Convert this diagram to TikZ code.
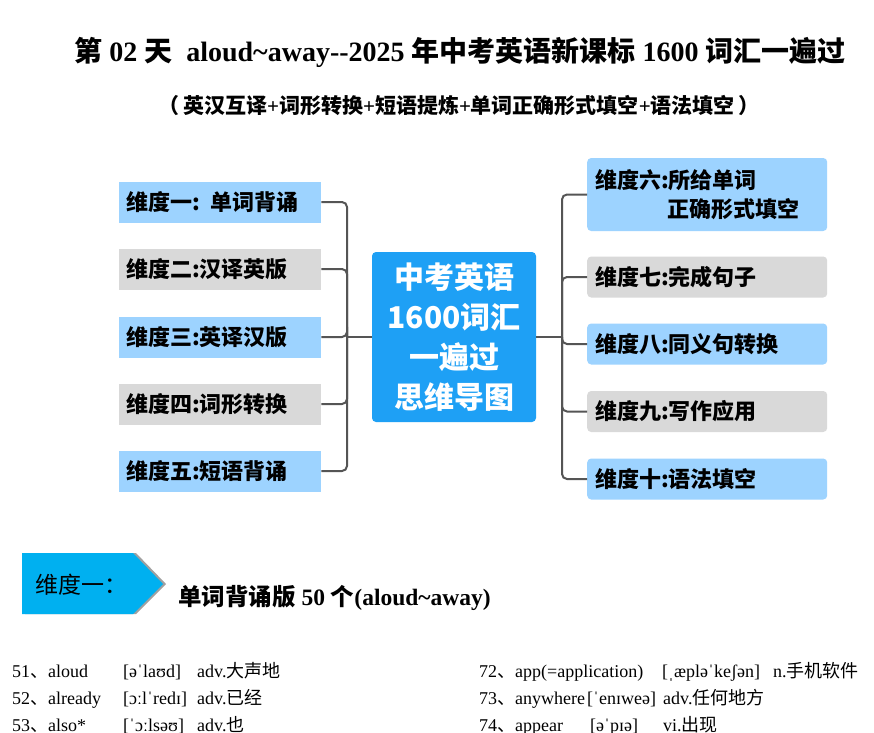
\documentclass[tikz,border=0pt]{standalone}
\usepackage{fontspec}
\setmainfont{Liberation Serif}
\newfontfamily\zhfont{Noto Sans CJK SC}
\newcommand{\zh}[1]{{\zhfont #1}}
\definecolor{dimblue}{HTML}{9DD3FF}
\definecolor{dimgray}{HTML}{D9D9D9}
\definecolor{hubblue}{HTML}{1EA0F5}
\definecolor{tagblue}{HTML}{00B0F0}
\definecolor{tagshade}{HTML}{A0A0A0}
\definecolor{linegray}{HTML}{555555}
\tikzset{
	leftdim/.style={anchor=west,text width=188pt,inner xsep=7pt,inner ysep=0pt,minimum height=41pt,align=left,font=\zhfont\bfseries\fontsize{22}{26}\selectfont},
	rightdim/.style={anchor=west,text width=224pt,inner xsep=8pt,inner ysep=0pt,minimum height=41pt,align=left,rounded corners=4pt,font=\zhfont\bfseries\fontsize{22}{29}\selectfont},
	hubbox/.style={fill=hubblue,text=white,rounded corners=4pt,minimum width=164pt,minimum height=170pt,align=center,font=\zhfont\bfseries\fontsize{30}{40}\selectfont},
	branch/.style={draw=linegray,line width=2pt,rounded corners=5pt},
	entry/.style={anchor=base west,inner sep=0pt,font=\fontsize{18}{20}\selectfont},
}
\begin{document}
\begin{tikzpicture}[x=1pt,y=-1pt]
	\useasboundingbox[fill=white] (0,0) rectangle (874,732);
	\node[font=\bfseries\fontsize{28}{32}\selectfont](title) at (460,52){\zh{第} 02 \zh{天}\ \ aloud\textasciitilde away-{}-2025 \zh{年中考英语新课标} 1600 \zh{词汇一遍过}};
	\node[font=\bfseries\fontsize{21}{24}\selectfont](subtitle) at (459,105){\zh{（}\,\zh{英汉互译}+\zh{词形转换}+\zh{短语提炼}+\zh{单词正确形式填空}+\zh{语法填空}\,\zh{）}};

	\node[hubbox](hub) at (454,337){中考英语\\1600词汇\\一遍过\\思维导图};

	\node[leftdim,fill=dimblue](dim1) at (119,202){维度一: 单词背诵};
	\node[leftdim,fill=dimgray](dim2) at (119,269){维度二:汉译英版};
	\node[leftdim,fill=dimblue](dim3) at (119,337){维度三:英译汉版};
	\node[leftdim,fill=dimgray](dim4) at (119,404){维度四:词形转换};
	\node[leftdim,fill=dimblue](dim5) at (119,471){维度五:短语背诵};

	\node[rightdim,fill=dimblue,minimum height=73pt](dim6) at (587,194.5){维度六:所给单词\\\hspace*{72pt}正确形式填空};
	\node[rightdim,fill=dimgray](dim7) at (587,277){维度七:完成句子};
	\node[rightdim,fill=dimblue](dim8) at (587,344){维度八:同义句转换};
	\node[rightdim,fill=dimgray](dim9) at (587,411.5){维度九:写作应用};
	\node[rightdim,fill=dimblue](dim10) at (587,479){维度十:语法填空};

	\coordinate(jl) at (347,337);
	\coordinate(jr) at (562,337);
	\draw[branch](hub.west)--(jl);
	\draw[branch](hub.east)--(jr);
	\foreach \i in {1,...,5}
		\draw[branch](dim\i.east)-|(jl);
	\foreach \i in {6,...,10}
		\draw[branch](jr)|-(dim\i.west);

	\fill[tagshade](25,553)--(136,553)--(166,584)--(136,614)--(25,614)--cycle;
	\fill[tagblue](22,553)--(133,553)--(163,584)--(133,614)--(22,614)--cycle;
	\node[anchor=west,inner sep=0pt,font=\zhfont\fontsize{23}{26}\selectfont](tag) at (35,585){维度一：};
	\node[anchor=west,inner sep=0pt,font=\bfseries\fontsize{23.5}{26}\selectfont](tagtext) at (178,598){\zh{单词背诵版} 50 \zh{个}(aloud\textasciitilde away)};

	\node[entry](w51) at (12,677){51\zh{、}aloud};
	\node[entry](p51) at (123,677){[əˈlaʊd]};
	\node[entry](m51) at (197,677){adv.\zh{大声地}};
	\node[entry](w52) at (12,704){52\zh{、}already};
	\node[entry](p52) at (123,704){[ɔːlˈredɪ]};
	\node[entry](m52) at (197,704){adv.\zh{已经}};
	\node[entry](w53) at (12,731){53\zh{、}also*};
	\node[entry](p53) at (123,731){[ˈɔːlsəʊ]};
	\node[entry](m53) at (197,731){adv.\zh{也}};

	\node[entry](w72) at (479,677){72\zh{、}app(=application)};
	\node[entry](p72) at (662,677){[ˌæpləˈkeʃən]};
	\node[entry](m72) at (773,677){n.\zh{手机软件}};
	\node[entry](w73) at (479,704){73\zh{、}anywhere};
	\node[entry](p73) at (587,704){[ˈenɪweə]};
	\node[entry](m73) at (663,704){adv.\zh{任何地方}};
	\node[entry](w74) at (479,731){74\zh{、}appear};
	\node[entry](p74) at (590,731){[əˈpɪə]};
	\node[entry](m74) at (663,731){vi.\zh{出现}};
\end{tikzpicture}
\end{document}
